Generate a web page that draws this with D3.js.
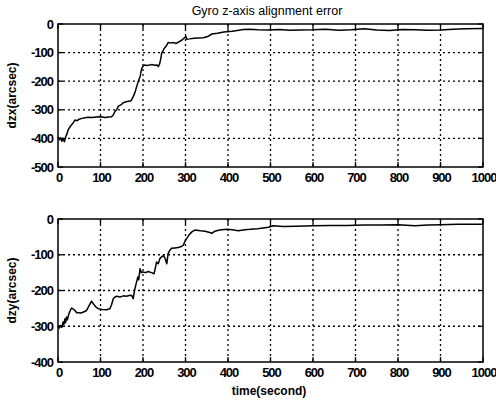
<!DOCTYPE html>
<html><head><meta charset="utf-8">
<script src="https://cdn.jsdelivr.net/npm/d3@7"></script>
<style>body{margin:0;background:#fff}svg{display:block}</style>
</head><body>
<svg id="c" width="496" height="401"></svg>
<script>
const title = "Gyro z-axis alignment error";
const xLabel = "time(second)";
const yLabels = ["dzx(arcsec)", "dzy(arcsec)"];
const xTicks = [0,100,200,300,400,500,600,700,800,900,1000];
const yTicksTop = [0,-100,-200,-300,-400,-500];
const yTicksBottom = [0,-100,-200,-300,-400];

const dzx = [[0,-395],[3,-405],[6,-398],[9,-410],[12,-400],[15,-412],[18,-395],[21,-385],[24,-370],[28,-360],[32,-352],[36,-345],[40,-336],[45,-338],[50,-333],[56,-330],[63,-328],[71,-326],[80,-327],[90,-325],[100,-324],[111,-327],[120,-325],[126,-324],[130,-318],[134,-306],[138,-300],[142,-287],[148,-283],[154,-275],[160,-272],[166,-270],[172,-268],[177,-254],[181,-240],[185,-219],[188,-205],[190,-196],[193,-185],[197,-155],[200,-148],[203,-143],[210,-145],[220,-142],[228,-144],[233,-143],[236,-149],[239,-140],[242,-120],[244,-102],[246,-97],[250,-85],[254,-79],[259,-65],[265,-66],[272,-65],[278,-68],[285,-62],[292,-56],[296,-50],[299,-47],[301,-43],[303,-53],[310,-52],[320,-50],[330,-49],[342,-48],[352,-44],[362,-35],[375,-32],[390,-28],[397,-27],[410,-25],[425,-22],[436,-19],[450,-18],[470,-20],[495,-21],[520,-19],[545,-22],[570,-21],[600,-20],[630,-18],[660,-22],[690,-20],[720,-17],[750,-21],[780,-23],[810,-19],[840,-20],[870,-22],[900,-21],[930,-18],[960,-17],[1000,-16]];

const dzy = [[0,-300],[3,-305],[6,-298],[9,-303],[12,-288],[14,-295],[16,-280],[18,-290],[20,-274],[22,-282],[25,-268],[28,-258],[32,-249],[36,-252],[40,-256],[44,-262],[48,-262],[54,-263],[60,-260],[64,-258],[67,-256],[72,-245],[76,-236],[79,-230],[83,-237],[87,-243],[91,-248],[95,-251],[104,-253],[114,-254],[122,-251],[126,-240],[130,-223],[134,-218],[138,-216],[146,-218],[154,-215],[161,-216],[167,-214],[173,-213],[177,-223],[179,-208],[181,-195],[184,-180],[188,-162],[190,-170],[193,-139],[196,-150],[200,-148],[206,-150],[212,-147],[220,-150],[226,-153],[228,-143],[232,-120],[236,-125],[240,-110],[244,-106],[248,-102],[252,-110],[256,-125],[259,-97],[263,-88],[267,-82],[275,-81],[283,-80],[290,-77],[295,-73],[299,-62],[303,-54],[308,-45],[315,-36],[322,-31],[335,-33],[346,-34],[355,-37],[362,-40],[369,-34],[380,-31],[397,-29],[410,-30],[424,-33],[440,-30],[452,-29],[470,-27],[495,-23],[506,-19],[530,-21],[560,-20],[600,-19],[640,-18],[680,-18],[720,-17],[760,-17],[800,-16],[840,-19],[870,-17],[900,-16],[940,-15],[970,-15],[1000,-15]];

const svg = d3.select("#c");
const font = "'Liberation Sans', Arial, sans-serif";
const x = d3.scaleLinear().domain([0,1000]).range([58,483]);

svg.append("text").attr("x",267).attr("y",15).attr("text-anchor","middle")
  .attr("font-family",font).attr("font-size",12.5).text(title);

function panel(top, bottom, yMin, yTicks, data, label) {
  const y = d3.scaleLinear().domain([yMin,0]).range([bottom, top]);
  const g = svg.append("g");
  g.selectAll(".gx").data(xTicks.slice(1,-1)).join("line")
    .attr("x1",d=>x(d)).attr("x2",d=>x(d)).attr("y1",top).attr("y2",bottom)
    .attr("stroke","#000").attr("stroke-width",1.3).attr("stroke-dasharray","2,3");
  g.selectAll(".gy").data(yTicks.slice(1,-1)).join("line")
    .attr("y1",d=>y(d)).attr("y2",d=>y(d)).attr("x1",x(0)).attr("x2",x(1000))
    .attr("stroke","#000").attr("stroke-width",1.3).attr("stroke-dasharray","2,3");
  const tl = 5;
  g.selectAll(".tb").data(xTicks).join("line")
    .attr("x1",d=>x(d)).attr("x2",d=>x(d)).attr("y1",bottom).attr("y2",bottom-tl)
    .attr("stroke","#000").attr("stroke-width",1.3);
  g.selectAll(".tt").data(xTicks).join("line")
    .attr("x1",d=>x(d)).attr("x2",d=>x(d)).attr("y1",top).attr("y2",top+tl)
    .attr("stroke","#000").attr("stroke-width",1.3);
  g.selectAll(".tlft").data(yTicks).join("line")
    .attr("y1",d=>y(d)).attr("y2",d=>y(d)).attr("x1",x(0)).attr("x2",x(0)+tl)
    .attr("stroke","#000").attr("stroke-width",1.3);
  g.selectAll(".trgt").data(yTicks).join("line")
    .attr("y1",d=>y(d)).attr("y2",d=>y(d)).attr("x1",x(1000)).attr("x2",x(1000)-tl)
    .attr("stroke","#000").attr("stroke-width",1.3);
  g.selectAll(".xl").data(xTicks).join("text")
    .attr("x",d=>x(d)+1).attr("y",bottom+15).attr("text-anchor","middle")
    .attr("font-family",font).attr("font-size",13).attr("font-weight","bold").attr("letter-spacing","-1")
    .text(d=>d);
  g.selectAll(".yl").data(yTicks).join("text")
    .attr("x",x(0)-5).attr("y",d=>y(d)+4.5).attr("text-anchor","end")
    .attr("font-family",font).attr("font-size",13).attr("font-weight","bold").attr("letter-spacing","-1")
    .text(d=>d);
  g.append("text").attr("transform",`translate(16,${(top+bottom)/2}) rotate(-90)`)
    .attr("text-anchor","middle").attr("font-family",font).attr("font-size",12).attr("font-weight","bold")
    .text(label);
  const line = d3.line().x(d=>x(d[0])).y(d=>y(d[1]));
  g.append("path").datum(data).attr("d",line).attr("fill","none")
    .attr("stroke","#000").attr("stroke-width",1.5).attr("stroke-linejoin","round");
  g.append("rect").attr("x",x(0)).attr("y",top).attr("width",x(1000)-x(0)).attr("height",bottom-top)
    .attr("fill","none").attr("stroke","#000").attr("stroke-width",1.5);
}

panel(24, 167, -500, yTicksTop, dzx, yLabels[0]);
panel(219, 362, -400, yTicksBottom, dzy, yLabels[1]);

svg.append("text").attr("x",269).attr("y",395).attr("text-anchor","middle")
  .attr("font-family",font).attr("font-size",12).attr("font-weight","bold").text(xLabel);
</script>
</body></html>
